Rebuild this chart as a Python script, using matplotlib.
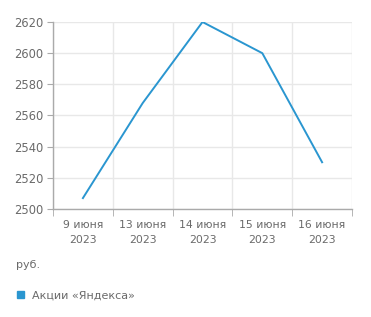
import numpy as np
import matplotlib.pyplot as plt

# data
dates = ['9 июня\n2023', '13 июня\n2023', '14 июня\n2023', '15 июня\n2023', '16 июня\n2023']
price = [2507, 2568, 2620, 2600, 2530]
y_ticks = [2500, 2520, 2540, 2560, 2580, 2600, 2620]

blue = '#2a96d0'
grey_txt = '#6a6a6a'
grid_c = '#e8e8e8'

fig = plt.figure(figsize=(3.71, 3.17), dpi=100)
ax = fig.add_axes([0.1429, 0.3407, 0.8059, 0.5899])

x = np.arange(len(dates))
ax.plot(x, price, color=blue, lw=1.4)

ax.set_xlim(-0.5, len(dates) - 0.5)
ax.set_ylim(2500, 2620)
ax.set_yticks(y_ticks)
ax.set_xticks(x)
ax.set_xticklabels(dates, linespacing=1.6)
ax.set_xticks(np.arange(-0.5, len(dates)), minor=True)

ax.grid(True, which='minor', axis='x', color=grid_c, lw=1)
ax.grid(True, which='major', axis='y', color=grid_c, lw=1)
ax.set_axisbelow(True)

for s in ['top', 'right']:
    ax.spines[s].set_visible(False)
for s in ['left', 'bottom']:
    ax.spines[s].set_color('#aaaaaa')
    ax.spines[s].set_linewidth(1)

ax.tick_params(axis='x', which='major', length=0, pad=8, labelsize=7.8, labelcolor=grey_txt)
ax.tick_params(axis='x', which='minor', length=5, color='#aaaaaa')
ax.tick_params(axis='y', length=4, color='#aaaaaa', labelsize=8.3, labelcolor=grey_txt, pad=3)

fig.text(0.043, 0.163, 'руб.', fontsize=8, color=grey_txt, va='center')
fig.patches.append(plt.Rectangle((0.046, 0.060), 0.018, 0.021, color=blue,
                                 transform=fig.transFigure, figure=fig))
fig.text(0.085, 0.069, 'Акции «Яндекса»', fontsize=8, color=grey_txt, va='center')

fig.savefig('out.png', dpi=100)
